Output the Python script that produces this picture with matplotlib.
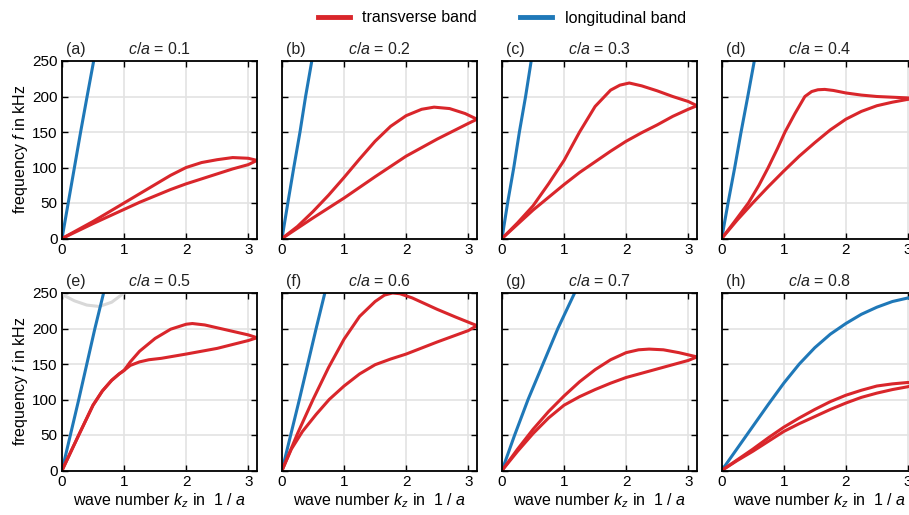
import numpy as np
import matplotlib
matplotlib.use("Agg")
import matplotlib.pyplot as plt
from matplotlib.lines import Line2D

plt.rcParams['font.family'] = ['Liberation Sans', 'DejaVu Sans']
plt.rcParams['mathtext.fontset'] = 'custom'
plt.rcParams['mathtext.rm'] = 'Liberation Sans'
plt.rcParams['mathtext.it'] = 'Liberation Sans:italic'

# panel info
tags = ["(a)", "(b)", "(c)", "(d)", "(e)", "(f)", "(g)", "(h)"]
ratios = ["0.1", "0.2", "0.3", "0.4", "0.5", "0.6", "0.7", "0.8"]
x_ticks = [0, 1, 2, 3]
y_ticks = [0, 50, 100, 150, 200, 250]

# longitudinal band (k, f) per panel
long_a = ([0, 0.1, 0.2, 0.3, 0.4, 0.51], [0, 50, 100, 150, 198, 250])
long_b = ([0, 0.09, 0.19, 0.29, 0.38, 0.48], [0, 48, 100, 150, 200, 250])
long_c = ([0, 0.09, 0.19, 0.28, 0.38, 0.47], [0, 50, 100, 150, 200, 250])
long_d = ([0, 0.1, 0.21, 0.31, 0.42, 0.525], [0, 49, 100, 149, 200, 250])
long_e = ([0, 0.27, 0.53, 0.67], [0, 100, 200, 250])
long_f = ([0, 0.28, 0.55, 0.69], [0, 100, 200, 250])
long_g = ([0, 0.2, 0.42, 0.66, 0.9, 1.17], [0, 49, 100, 150, 200, 250])
long_h = ([0, 0.25, 0.5, 0.75, 1, 1.25, 1.5, 1.75, 2, 2.25, 2.5, 2.75, 3, 3.1416],
          [0, 31, 62, 93, 123, 150, 173, 192, 207, 220, 230, 238, 243, 245])

# transverse bands: upper and lower branch per panel
up_a = ([0, 0.25, 0.5, 0.75, 1, 1.25, 1.5, 1.75, 2, 2.25, 2.5, 2.75, 3, 3.1416],
        [0, 12, 24, 37, 50, 63, 76, 89, 100, 107, 111, 114, 113, 110])
lo_a = ([0, 0.25, 0.5, 0.75, 1, 1.25, 1.5, 1.75, 2, 2.25, 2.5, 2.75, 3, 3.1416],
        [0, 10.5, 21, 31, 41, 51, 60, 69, 77, 84, 91, 98, 104, 110])
up_b = ([0, 0.25, 0.5, 0.75, 1, 1.25, 1.5, 1.75, 2, 2.25, 2.45, 2.7, 2.95, 3.1416],
        [0, 17, 38, 61, 86, 112, 137, 158, 173, 182, 185, 183, 176, 168])
lo_b = ([0, 0.5, 1, 1.5, 2, 2.5, 3, 3.1416], [0, 29, 57, 87, 116, 140, 162, 168])
up_c = ([0, 0.25, 0.5, 0.75, 1, 1.25, 1.5, 1.75, 1.9, 2.05, 2.25, 2.5, 2.75, 3, 3.1416],
        [0, 22, 46, 77, 110, 150, 186, 209, 216, 219, 215, 208, 200, 193, 187])
lo_c = ([0, 0.25, 0.5, 0.75, 1, 1.25, 1.5, 1.75, 2, 2.25, 2.5, 2.75, 3, 3.1416],
        [0, 20, 40, 58, 76, 93, 108, 123, 137, 149, 160, 172, 182, 187])
up_d = ([0, 0.2, 0.43, 0.6, 0.75, 0.9, 1.02, 1.18, 1.34, 1.45, 1.55, 1.66, 1.8, 2, 2.25, 2.5, 2.75, 3, 3.1416],
        [0, 23, 50, 75, 100, 127, 150, 176, 200, 207, 209.5, 210, 208.5, 205, 202, 200, 199, 198, 197])
lo_d = ([0, 0.25, 0.5, 0.75, 1, 1.25, 1.5, 1.75, 2, 2.25, 2.5, 2.75, 3, 3.1416],
        [0, 26, 50, 73, 95, 116, 135, 153, 168, 179, 187, 192, 196, 197])
up_e = ([0, 0.27, 0.5, 0.65, 0.8, 0.92, 1.0, 1.1, 1.25, 1.5, 1.75, 2, 2.1, 2.3, 2.5, 2.75, 3, 3.1416],
        [0, 50, 92, 112, 127, 136, 141, 153, 168, 186, 199, 206, 207, 205, 201, 196, 191, 187])
lo_e = ([0, 0.27, 0.5, 0.65, 0.8, 0.92, 1.0, 1.1, 1.25, 1.4, 1.6, 2, 2.5, 3, 3.1416],
        [0, 50, 92, 112, 127, 136, 141, 148, 153, 156, 158, 164, 172, 183, 187])
up_f = ([0, 0.25, 0.5, 0.75, 1, 1.25, 1.5, 1.65, 1.78, 1.9, 2.1, 2.5, 2.8, 3.1416],
        [0, 52, 100, 145, 185, 217, 238, 247, 250, 249, 243, 227, 216, 204])
lo_f = ([0, 0.15, 0.33, 0.55, 0.76, 1, 1.25, 1.5, 1.75, 2, 2.5, 3, 3.1416],
        [0, 30, 55, 79, 100, 119, 136, 149, 157, 164, 181, 197, 204])
up_g = ([0, 0.25, 0.5, 0.75, 1, 1.25, 1.5, 1.75, 2, 2.2, 2.37, 2.6, 2.85, 3.1416],
        [0, 30, 58, 83, 105, 125, 142, 156, 166, 170, 171, 170, 166, 160])
lo_g = ([0, 0.25, 0.5, 0.75, 1, 1.25, 1.5, 1.75, 2, 2.5, 3, 3.1416],
        [0, 27, 52, 74, 92, 104, 114, 123, 131, 143, 155, 160])
up_h = ([0, 0.25, 0.5, 0.75, 1, 1.25, 1.5, 1.75, 2, 2.25, 2.5, 2.75, 3, 3.1416],
        [0, 15, 30, 46, 61, 74, 86, 97, 106, 113, 119, 122, 124, 123])
lo_h = ([0, 0.25, 0.5, 0.75, 1, 1.25, 1.5, 1.75, 2, 2.25, 2.5, 2.75, 3, 3.1416],
        [0, 14, 27, 41, 55, 66, 76, 86, 95, 103, 109, 114, 118, 122])

# faint higher band visible in panel (e)
gray_e = ([0, 0.2, 0.4, 0.6, 0.8, 1.0], [248, 239, 233, 231, 237, 250])

longs = [long_a, long_b, long_c, long_d, long_e, long_f, long_g, long_h]
uppers = [up_a, up_b, up_c, up_d, up_e, up_f, up_g, up_h]
lowers = [lo_a, lo_b, lo_c, lo_d, lo_e, lo_f, lo_g, lo_h]

RED = "#d9262b"
BLUE = "#1f78b8"

W, H = 909, 515
fig = plt.figure(figsize=(W / 100, H / 100), dpi=100)

lefts = [62, 282, 502, 721.7]
tops = [61, 293]
aw, ah = 195, 177.5

for i in range(8):
    row, col = divmod(i, 4)
    ax = fig.add_axes([lefts[col] / W, 1 - (tops[row] + ah) / H, aw / W, ah / H])
    ax.grid(True, color="#e3e3e3", lw=1.2)
    ax.set_axisbelow(True)
    if i == 4:
        ax.plot(gray_e[0], gray_e[1], color="#d8d8d8", lw=2.2)
    ax.plot(longs[i][0], longs[i][1], color=BLUE, lw=2.2, solid_joinstyle="round")
    ax.plot(uppers[i][0], uppers[i][1], color=RED, lw=2.2, solid_joinstyle="round")
    ax.plot(lowers[i][0], lowers[i][1], color=RED, lw=2.2, solid_joinstyle="round")
    ax.set_xlim(0, np.pi)
    ax.set_ylim(0, 250)
    ax.set_xticks(x_ticks)
    ax.set_yticks(y_ticks)
    ax.tick_params(direction="in", length=4, width=1, top=True, right=True,
                   labelsize=11, pad=3, colors="black")
    for s in ax.spines.values():
        s.set_linewidth(1.3)
    if col > 0:
        ax.set_yticklabels([])
    else:
        ax.set_ylabel("frequency $f$ in kHz", fontsize=11.5, labelpad=2)
    if row == 1:
        ax.set_xlabel("wave number $k_z$ in  1 / $a$", fontsize=11.5, labelpad=2)
    ax.text(0.02, 1.02, tags[i], transform=ax.transAxes, fontsize=11.5,
            ha="left", va="bottom", color="#222222")
    ax.text(0.34, 1.02, "$c/a$ = " + ratios[i], transform=ax.transAxes,
            fontsize=11.5, ha="left", va="bottom", color="#222222")

handles = [Line2D([], [], color=RED, lw=3.5), Line2D([], [], color=BLUE, lw=3.5)]
fig.legend(handles, ["transverse band", "longitudinal band"], loc="center",
           bbox_to_anchor=(502 / W, 1 - 18 / H), ncol=2, frameon=False,
           fontsize=11.5, handlelength=2.0, columnspacing=2.7, handletextpad=0.8)

fig.savefig("out.png", dpi=100)
